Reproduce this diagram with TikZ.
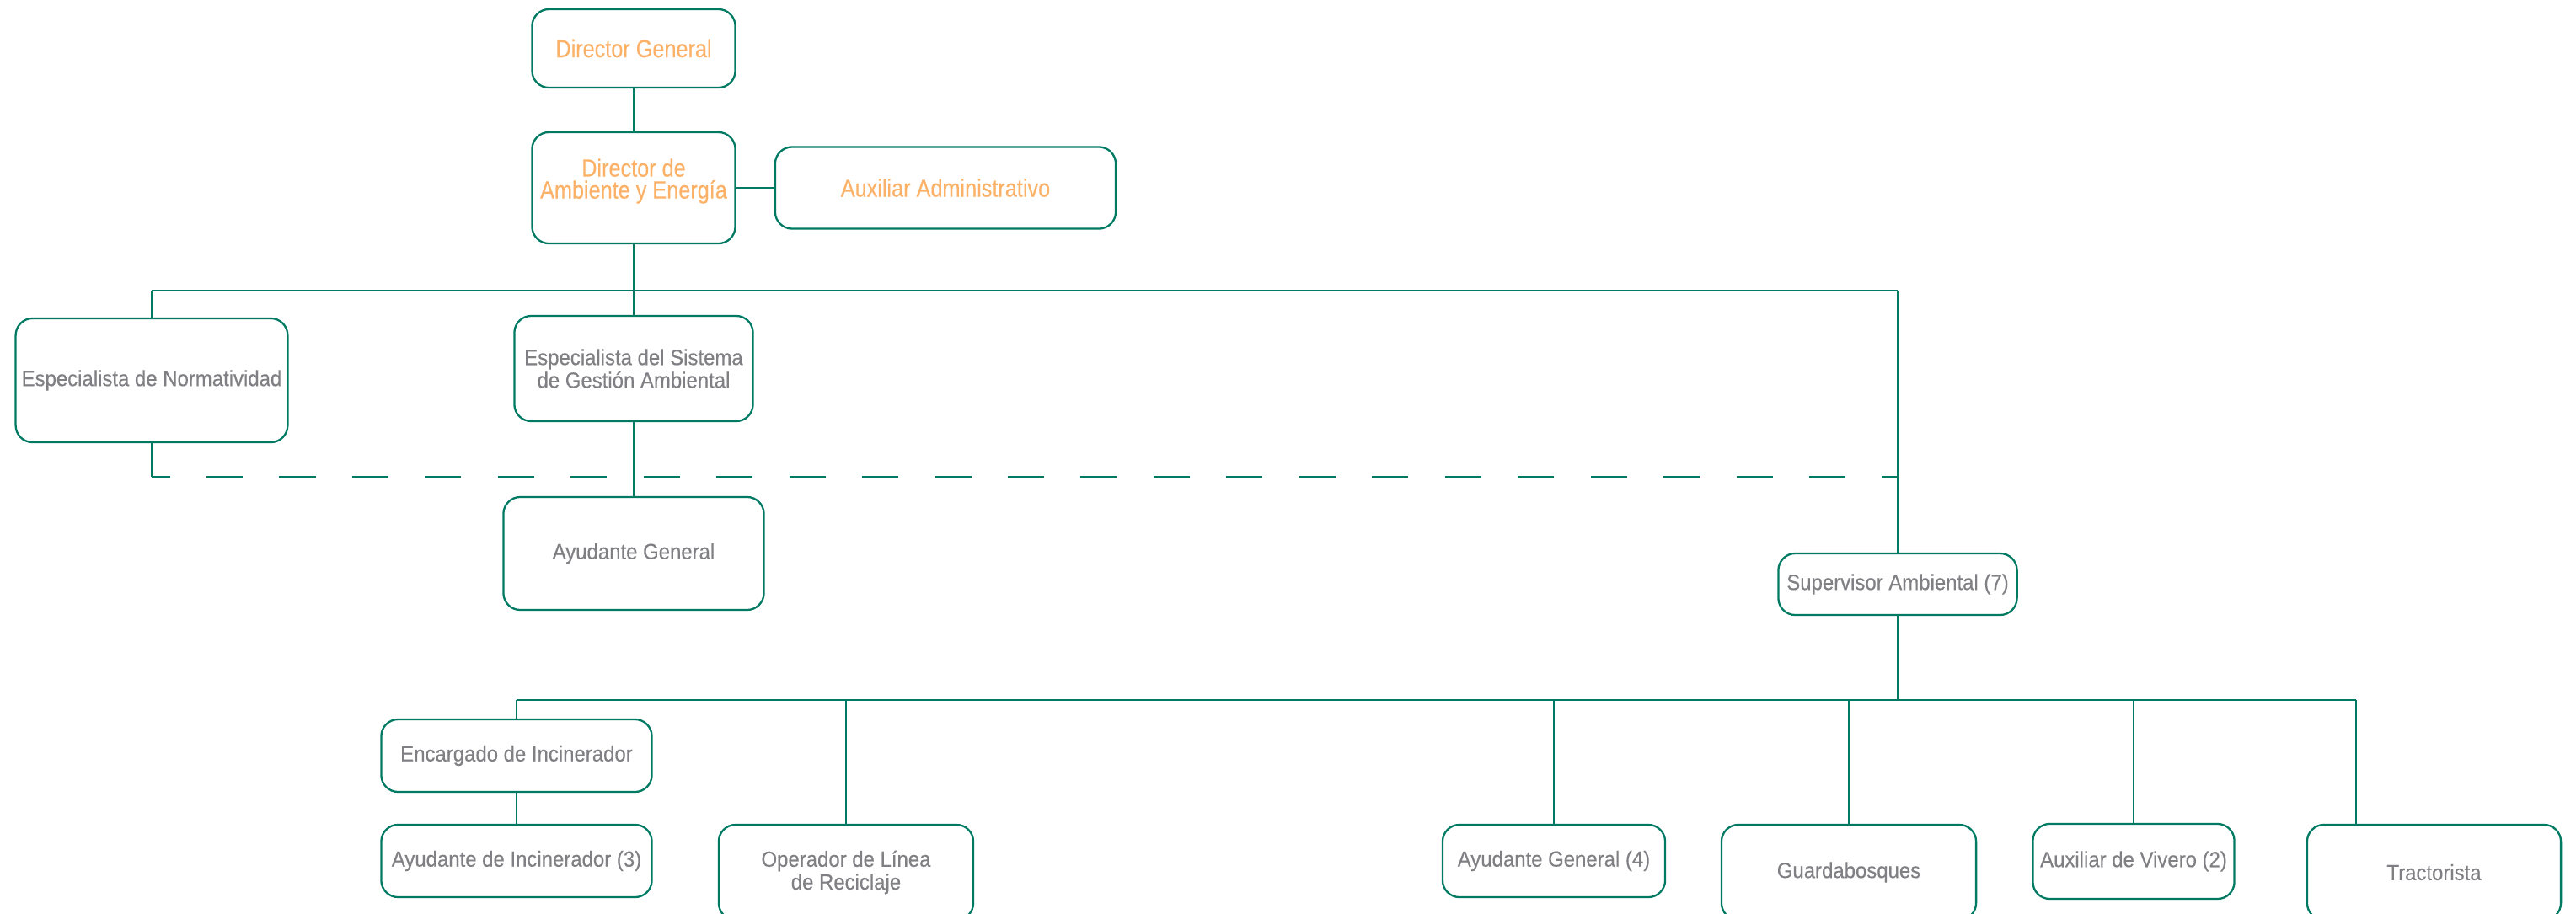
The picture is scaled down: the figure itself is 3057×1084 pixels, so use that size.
\documentclass[tikz,border=0pt]{standalone}
\usepackage{fontspec}
\setmainfont{Liberation Sans}[FakeStretch=0.92,FakeBold=0.3]
\newfontfamily\angosta{Liberation Sans}[FakeStretch=0.86,FakeBold=0.3]
\usepackage{tikz}
\usetikzlibrary{positioning}
\definecolor{verde}{RGB}{0,122,98}
\definecolor{naranja}{RGB}{251,178,104}
\definecolor{gris}{RGB}{128,128,132}

\begin{document}
\begin{tikzpicture}[
    x=0.01cm,
    y=-0.01cm,
    line width=0.7pt,
    verde
]

\tikzstyle{puesto}=[
    rectangle,
    rounded corners=0.2cm,
    draw=verde,
    line width=0.65pt,
    align=center,
    inner sep=2pt,
    text=gris,
    font=\fontsize{7.4}{7.7}\selectfont
]
\tikzstyle{jefe}=[puesto, text=naranja, font=\angosta\fontsize{8.35}{7.4}\selectfont]
\tikzstyle{bus}=[line width=0.8pt]
\tikzstyle{linea}=[line width=0.8pt, dash pattern=on 0.43cm off 0.434cm, dash phase=0.214cm]

\useasboundingbox (0,0) rectangle (3057,1084);

% direccion
\node[jefe, minimum width=2.41cm, minimum height=0.93cm] (dg) at (752,57.5) {Director General};
\node[jefe, minimum width=2.41cm, minimum height=1.32cm, text depth=0.22cm] (dae) at (752,223) {Director de\\Ambiente y Energía};
\node[jefe, minimum width=4.04cm, minimum height=0.97cm] (aux) at (1122,223) {Auxiliar Administrativo};

\node[puesto, minimum width=3.19cm, minimum height=1.47cm] (norm) at (180,451.5) {Especialista de Normatividad};
\node[puesto, minimum width=2.83cm, minimum height=1.25cm] (sga) at (752,437.5) {Especialista del Sistema\\de Gestión Ambiental};
\node[puesto, minimum width=3.09cm, minimum height=1.34cm] (ayg) at (752,657) {Ayudante General};
\node[puesto, minimum width=2.83cm, minimum height=0.73cm] (sup) at (2252,693.5) {Supervisor Ambiental (7)};

% operacion
\node[puesto, minimum width=3.21cm, minimum height=0.86cm] (enc) at (613,897) {Encargado de Incinerador};
\node[puesto, minimum width=3.21cm, minimum height=0.86cm] (ayi) at (613,1022) {Ayudante de Incinerador (3)};
\node[puesto, minimum width=3.02cm, minimum height=1.13cm] (oper) at (1004,1035.5) {Operador de Línea\\de Reciclaje};
\node[puesto, minimum width=2.64cm, minimum height=0.86cm] (ag4) at (1844,1022) {Ayudante General (4)};
\node[puesto, minimum width=3.02cm, minimum height=1.13cm] (guard) at (2194,1035.5) {Guardabosques};
\node[puesto, minimum width=2.39cm, minimum height=0.89cm] (viv) at (2532,1022.5) {Auxiliar de Vivero (2)};
\node[puesto, minimum width=3.01cm, minimum height=1.13cm] (tract) at (2888.5,1035.5) {Tractorista};

\coordinate (bus1l) at (180,345);
\coordinate (bus1r) at (2252,345);
\coordinate (dash1) at (180,566);
\coordinate (dash2) at (2252,566);
\coordinate (bus2) at (2252,831);
\coordinate (bus2l) at (613,831);
\coordinate (bus2r) at (2796,831);

\draw (dg) -- (dae);
\draw (dae) -- (aux);
\draw (dae) -- (sga);
\draw (sga) -- (ayg);
\draw[bus] (bus1l) -- (bus1r);
\draw (bus1l) -- (norm);
\draw (bus1r) -- (sup);
\draw (norm) -- (dash1);
\draw[linea] (dash1) -- (dash2);

\draw (sup) -- (bus2);
\draw[bus] (bus2l) -- (bus2r);
\draw (bus2l) -- (enc);
\draw (enc) -- (ayi);
\foreach \n in {oper,ag4,guard,viv}
    \draw (\n.north |- bus2l) -- (\n.north);
\draw (bus2r) -- (bus2r |- tract.north);

\end{tikzpicture}
\end{document}
